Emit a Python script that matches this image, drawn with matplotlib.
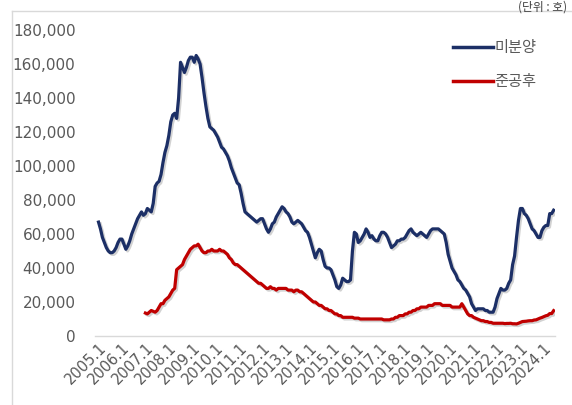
import matplotlib
matplotlib.use("Agg")
import matplotlib.pyplot as plt
import matplotlib.patheffects as pe
from matplotlib.ticker import FuncFormatter
import numpy as np

plt.rcParams['font.family'] = ['DejaVu Sans']

# Monthly data, 2005.1 - 2024.6, thousands of units
unsold = [
    67, 63, 58, 55, 52, 50, 49, 49, 50, 52, 55, 57,          # 2005
    57, 54, 51, 53, 56, 60, 63, 66, 69, 71, 73, 71,          # 2006
    72, 75, 74, 73, 78, 88, 90, 91, 95, 102, 108, 112,       # 2007
    118, 126, 130, 131, 128, 140, 161, 158, 155, 158, 162, 164,  # 2008
    164, 161, 165, 163, 160, 152, 143, 135, 128, 123, 122, 121,  # 2009
    119, 117, 114, 111, 110, 108, 106, 103, 99, 96, 93, 90,  # 2010
    89, 84, 78, 73, 72, 71, 70, 69, 68, 67, 68, 69,          # 2011
    69, 66, 63, 61, 63, 66, 67, 70, 72, 74, 76, 75,          # 2012
    73, 72, 70, 67, 66, 67, 68, 67, 66, 64, 62, 61,          # 2013
    58, 54, 50, 46, 49, 51, 50, 45, 41, 40, 40, 39,          # 2014
    36, 33, 29, 28, 30, 34, 33, 32, 32, 33, 50, 61,          # 2015
    60, 55, 56, 58, 60, 63, 61, 58, 59, 57, 56, 56,          # 2016
    59, 61, 61, 60, 58, 55, 52, 53, 54, 56, 56, 57,          # 2017
    57, 58, 60, 62, 63, 61, 60, 59, 60, 61, 60, 59,          # 2018
    58, 60, 62, 63, 63, 63, 63, 62, 61, 60, 55, 48,          # 2019
    44, 40, 38, 36, 33, 32, 30, 28, 27, 25, 23, 19,          # 2020
    17, 15, 16, 16, 16, 16, 15, 15, 14, 14, 14, 17,          # 2021
    22, 25, 28, 27, 27, 28, 31, 33, 42, 47, 58, 68,          # 2022
    75, 75, 72, 71, 69, 66, 63, 62, 60, 58, 58, 62,          # 2023
    64, 65, 65, 72, 72, 74,                                  # 2024
]

# Completed-but-unsold, starting 2007.1
completed = [
    13.5, 13, 14, 15, 14.5, 14, 15, 17, 19, 19, 21, 22,      # 2007
    23, 25, 27, 28, 39, 40, 41, 42, 45, 47, 49, 51,          # 2008
    52, 53, 53, 54, 52, 50, 49, 49, 50, 50, 51, 50,          # 2009
    50, 50, 51, 50, 50, 49, 48, 46, 45, 43, 42, 42,          # 2010
    41, 40, 39, 38, 37, 36, 35, 34, 33, 32, 31, 31,          # 2011
    30, 29, 28, 28, 29, 28, 28, 27, 28, 28, 28, 28,          # 2012
    28, 27, 27, 27, 26, 27, 27, 26, 26, 25, 24, 23,          # 2013
    22, 21, 20, 20, 19, 18, 18, 17, 16, 16, 15, 15,          # 2014
    14, 13, 13, 12, 12, 11, 11, 11, 11, 11, 11, 10.5,        # 2015
    10.5, 10.5, 10, 10, 10, 10, 10, 10, 10, 10, 10, 10,      # 2016
    10, 10, 9.5, 9.5, 9.5, 9.5, 10, 10, 11, 11, 12, 12,      # 2017
    12, 13, 13, 14, 14, 15, 15, 16, 16, 17, 17, 17,          # 2018
    17, 18, 18, 18, 19, 19, 19, 19, 18, 18, 18, 18,          # 2019
    18, 17, 17, 17, 17, 17, 19, 17, 15, 13, 12, 12,          # 2020
    11, 10.5, 10, 9.5, 9, 9, 8.5, 8.5, 8, 8, 7.5, 7.5,       # 2021
    7.5, 7.5, 7.5, 7.5, 7.3, 7.4, 7.4, 7.5, 7.2, 7.2, 7.1, 7.5,  # 2022
    8.0, 8.5, 8.6, 8.7, 8.9, 9.0, 9.0, 9.4, 9.5, 10.0, 10.5, 10.9,  # 2023
    11.4, 11.9, 12.2, 13.2, 13.2, 14.9,                      # 2024
]

start_year = 2005
years = list(range(2005, 2025))
tick_labels = [f"{y}.1" for y in years]
series_names = ["미분양", "준공후"]

n = len(unsold)
x_unsold = np.arange(n)
offset = n - len(completed)
x_completed = np.arange(offset, n)

fig = plt.figure(figsize=(5.72, 4.05), dpi=100)
# figure border (light gray)
fig.add_artist(plt.Line2D([11.5/572, 11.5/572], [0, 1 - 11/405], color='#d9d9d9', lw=1.0))
fig.add_artist(plt.Line2D([11.5/572, 1], [1 - 11/405, 1 - 11/405], color='#d9d9d9', lw=1.0))

ax = fig.add_axes([95/572, 1 - 336/405, 460/572, 306/405])

shadow = [pe.SimpleLineShadow(offset=(1.2, -1.2), shadow_color='#7f7f7f', alpha=0.35), pe.Normal()]
ax.plot(x_unsold, np.array(unsold) * 1000, color='#1c2f66', lw=2.3,
        label=series_names[0], path_effects=shadow, solid_joinstyle='round')
ax.plot(x_completed, np.array(completed) * 1000, color='#c00000', lw=2.3,
        label=series_names[1], path_effects=shadow, solid_joinstyle='round')

ax.set_ylim(0, 180000)
ax.set_xlim(-1.8, n - 0.3)
ax.set_yticks(np.arange(0, 180001, 20000))
ax.yaxis.set_major_formatter(FuncFormatter(lambda v, p: f"{int(v):,}"))
ax.set_xticks([(y - start_year) * 12 for y in years])
ax.set_xticklabels(tick_labels, rotation=45, ha='right', va='top', rotation_mode='anchor')

for s in ['top', 'right', 'left']:
    ax.spines[s].set_visible(False)
ax.spines['bottom'].set_color('#d9d9d9')
ax.spines['bottom'].set_linewidth(1.0)
ax.tick_params(axis='both', length=0, colors='#595959')
ax.tick_params(axis='y', labelsize=11, pad=14)
ax.tick_params(axis='x', labelsize=10.5, pad=3)

leg = ax.legend(loc='upper right', bbox_to_anchor=(0.99, 1.015), frameon=False,
                prop={'family': ['Noto Sans CJK KR', 'DejaVu Sans'], 'size': 11},
                handlelength=2.6, handletextpad=0.1, labelspacing=1.1, labelcolor='#595959')
for line in leg.get_lines():
    line.set_linewidth(2.5)
    line.set_path_effects([])

fig.text(567/572, 1 - 1/405, "(단위 : 호)", ha='right', va='top',
         fontsize=8.5, color='#404040', family=['Noto Sans CJK KR', 'DejaVu Sans'])

fig.savefig("out.png", dpi=100)
